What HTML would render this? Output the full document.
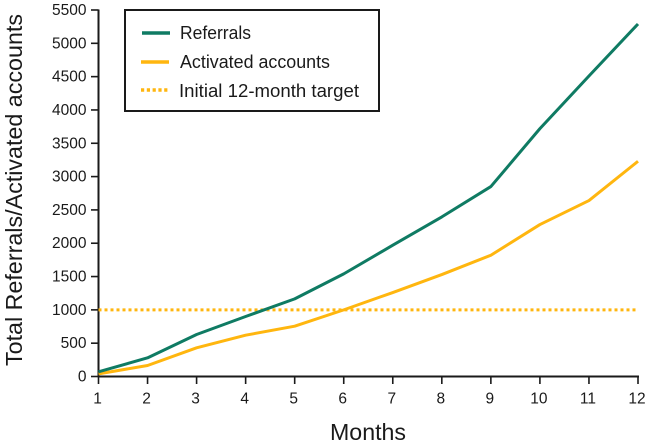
<!DOCTYPE html>
<html lang="en">
<head>
<meta charset="utf-8">
<title>Total referrals and activated accounts by month</title>
<style>
  html, body { margin: 0; padding: 0; background: #fff; }
  svg { display: block; font-family: "Liberation Sans", sans-serif; }
</style>
</head>
<body>
<svg id="chart" xmlns="http://www.w3.org/2000/svg" width="649" height="444" viewBox="0 0 649 444"></svg>
<script>
const months = [1, 2, 3, 4, 5, 6, 7, 8, 9, 10, 11, 12];
const referrals = [70, 280, 630, 900, 1165, 1540, 1970, 2395, 2850, 3720, 4510, 5290];
const activatedAccounts = [40, 165, 430, 620, 755, 1000, 1260, 1530, 1820, 2280, 2640, 3230];
const initialTarget = [1000, 1000, 1000, 1000, 1000, 1000, 1000, 1000, 1000, 1000, 1000, 1000];
const yTickLabels = [0, 500, 1000, 1500, 2000, 2500, 3000, 3500, 4000, 4500, 5000, 5500];

const svg = document.getElementById('chart');
const NS = 'http://www.w3.org/2000/svg';
const GREEN = '#0f7b63';
const GOLD = '#ffb60f';
const INK = '#1a1a1a';

function xScale(m) { return 98.5 + (m - 1) * (638 - 98.5) / 11; }
function yScale(v) { return 376.5 - v * (376.5 - 10) / 5500; }

function make(tag, attrs, parent) {
  const el = document.createElementNS(NS, tag);
  for (const k in attrs) el.setAttribute(k, attrs[k]);
  (parent || svg).appendChild(el);
  return el;
}
function seriesPoints(values) {
  return values.map((v, i) => xScale(months[i]) + ',' + yScale(v)).join(' ');
}

/* Axes */
const xAxis = make('line', { x1: 98.5, y1: 376.5, x2: 639, y2: 376.5, stroke: INK, 'stroke-width': 2 });


const yAxis = make('line', { x1: 98.5, y1: 9.5, x2: 98.5, y2: 377.5, stroke: INK, 'stroke-width': 2 });



/* Y ticks */
yTickLabels.forEach(function (v) {
  const tick = make('line', { x1: 91, y1: yScale(v), x2: 98.5, y2: yScale(v), stroke: INK, 'stroke-width': 1.6 });
  
  
  const label = make('text', { x: 86.5, y: yScale(v) + 5, 'text-anchor': 'end', 'font-size': 15.5, fill: INK });
  label.textContent = v;
  
  
});

/* X ticks */
months.forEach(function (m) {
  const tick = make('line', { x1: xScale(m), y1: 376.5, x2: xScale(m), y2: 384, stroke: INK, 'stroke-width': 1.6 });
  
  
  const label = make('text', { x: xScale(m) - 1, y: 403.5, 'text-anchor': 'middle', 'font-size': 15.5, fill: INK });
  label.textContent = m;
  
  
});

/* Series */
const targetLine = make('polyline', { points: seriesPoints(initialTarget), fill: 'none', stroke: GOLD, 'stroke-width': 3, 'stroke-dasharray': '3 3' });


const activatedLine = make('polyline', { points: seriesPoints(activatedAccounts), fill: 'none', stroke: GOLD, 'stroke-width': 3, 'stroke-linejoin': 'round' });


const referralsLine = make('polyline', { points: seriesPoints(referrals), fill: 'none', stroke: GREEN, 'stroke-width': 3, 'stroke-linejoin': 'round' });



/* Axis titles */
const xTitle = make('text', { x: 368, y: 440, 'text-anchor': 'middle', 'font-size': 23, textLength: 76, lengthAdjust: 'spacingAndGlyphs', fill: INK });
xTitle.textContent = 'Months';


const yTitle = make('text', { transform: 'translate(22 190) rotate(-90)', 'text-anchor': 'middle', 'font-size': 23, textLength: 352, lengthAdjust: 'spacingAndGlyphs', fill: INK });
yTitle.textContent = 'Total Referrals/Activated accounts';



/* Legend */
const legend = make('g', {});


const legendBox = make('rect', { x: 125, y: 10, width: 254, height: 101, fill: '#fff', stroke: INK, 'stroke-width': 2 }, legend);



const swatchReferrals = make('line', { x1: 142, y1: 33, x2: 170, y2: 33, stroke: GREEN, 'stroke-width': 3.5 }, legend);


const swatchActivated = make('line', { x1: 141, y1: 62, x2: 169, y2: 62, stroke: GOLD, 'stroke-width': 3.5 }, legend);


const swatchTarget = make('line', { x1: 141, y1: 90, x2: 169, y2: 90, stroke: GOLD, 'stroke-width': 3.5, 'stroke-dasharray': '3.2 2.6' }, legend);



const labelReferrals = make('text', { x: 180, y: 39, 'font-size': 18, textLength: 71, lengthAdjust: 'spacingAndGlyphs', fill: INK }, legend);
labelReferrals.textContent = 'Referrals';


const labelActivated = make('text', { x: 180, y: 68, 'font-size': 18, textLength: 150, lengthAdjust: 'spacingAndGlyphs', fill: INK }, legend);
labelActivated.textContent = 'Activated accounts';


const labelTarget = make('text', { x: 179, y: 97, 'font-size': 18, textLength: 180, lengthAdjust: 'spacingAndGlyphs', fill: INK }, legend);
labelTarget.textContent = 'Initial 12-month target';


</script>
</body>
</html>
